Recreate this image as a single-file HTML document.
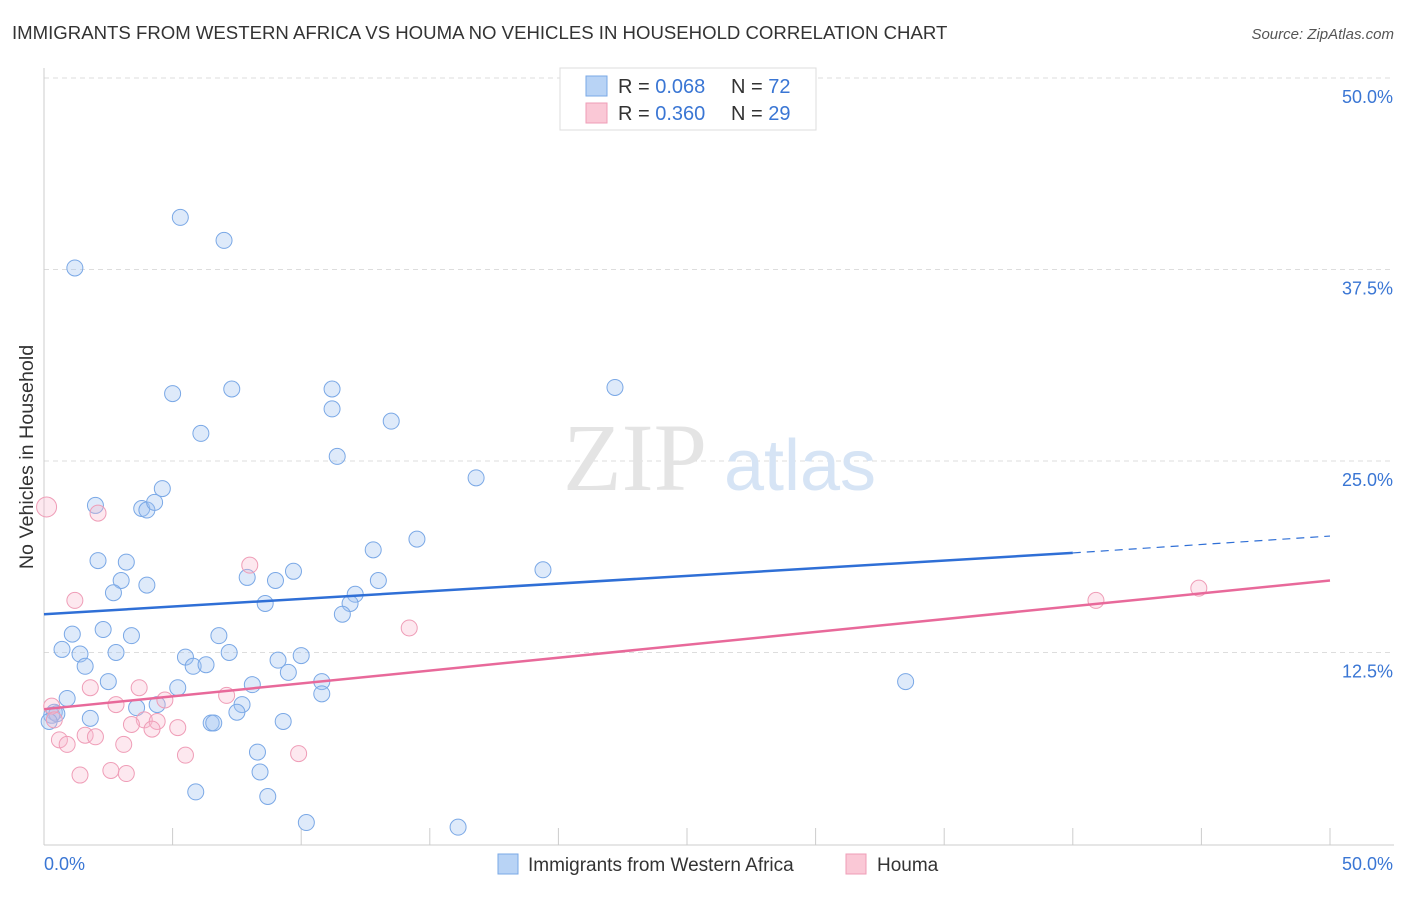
<!DOCTYPE html>
<html><head><meta charset="utf-8"><style>
body{margin:0;background:#fff;font-family:"Liberation Sans",sans-serif;}
</style></head><body>
<svg width="1406" height="892" xmlns="http://www.w3.org/2000/svg" font-family="Liberation Sans, sans-serif">
<text x="12" y="39" font-size="18.6" fill="#333">IMMIGRANTS FROM WESTERN AFRICA VS HOUMA NO VEHICLES IN HOUSEHOLD CORRELATION CHART</text>
<text x="1394" y="39" font-size="15" fill="#555" text-anchor="end" font-style="italic">Source: ZipAtlas.com</text>
<text x="33" y="457" font-size="19.7" fill="#333" text-anchor="middle" transform="rotate(-90 33 457)">No Vehicles in Household</text>
<g id="grid"></g>
<g><text x="635" y="490" font-size="96" fill="#e4e4e4" text-anchor="middle" font-family="Liberation Serif, serif">ZIP</text><text x="800" y="490" font-size="72" fill="#d6e4f5" text-anchor="middle">atlas</text></g>
<line x1="44" y1="68" x2="44" y2="845" stroke="#ccc"/>
<line x1="44" y1="845" x2="1394" y2="845" stroke="#ccc"/>
<g id="xticks"></g>
<g id="pts"></g>
<g id="lines"></g>
<text x="44" y="870" font-size="18" fill="#3a76d4">0.0%</text>
<text x="1393" y="870" font-size="18" fill="#3a76d4" text-anchor="end">50.0%</text>
<g>
<rect x="560" y="68" width="256" height="62" fill="#fff" stroke="#ddd"/>
<rect x="586" y="76" width="21" height="20" fill="#b8d3f5" stroke="#7aa8e6"/>
<rect x="586" y="103" width="21" height="20" fill="#fac8d6" stroke="#ef9db7"/>
<text x="618" y="93" font-size="20" fill="#333">R = <tspan fill="#3a76d4">0.068</tspan><tspan x="731">N = </tspan><tspan fill="#3a76d4">72</tspan></text>
<text x="618" y="120" font-size="20" fill="#333">R = <tspan fill="#3a76d4">0.360</tspan><tspan x="731">N = </tspan><tspan fill="#3a76d4">29</tspan></text>
</g>
<g>
<rect x="498" y="854" width="20" height="20" fill="#b8d3f5" stroke="#7aa8e6"/>
<text x="528" y="871" font-size="19" fill="#333">Immigrants from Western Africa</text>
<rect x="846" y="854" width="20" height="20" fill="#fac8d6" stroke="#ef9db7"/>
<text x="877" y="871" font-size="19" fill="#333">Houma</text>
</g>
</svg>
<script>
const yTicks=[12.5,25,37.5,50];
const yTickLabels=["12.5%","25.0%","37.5%","50.0%"];
const blueX=[1.2,5.3,7,5,7.3,11.2,11.2,22.2,6.1,13.5,11.4,16.8,2,3.8,4,4.3,4.6,14.5,12.8,2.1,3.2,19.4,9.7,3,4,7.9,9,13,2.7,12.1,8.6,11.9,11.6,2.3,1.1,3.4,6.8,0.7,1.4,2.8,5.5,7.2,10,9.1,1.6,5.8,6.3,9.5,2.5,5.2,8.1,10.8,33.5,0.9,10.8,7.7,3.6,4.4,0.4,0.3,0.5,1.8,7.5,6.5,6.6,9.3,8.3,8.4,5.9,8.7,10.2,16.1,0.2];
const blueY=[37.6,40.9,39.4,29.4,29.7,29.7,28.4,29.8,26.8,27.6,25.3,23.9,22.1,21.9,21.8,22.3,23.2,19.9,19.2,18.5,18.4,17.9,17.8,17.2,16.9,17.4,17.2,17.2,16.4,16.3,15.7,15.7,15,14,13.7,13.6,13.6,12.7,12.4,12.5,12.2,12.5,12.3,12,11.6,11.6,11.7,11.2,10.6,10.2,10.4,10.6,10.6,9.5,9.8,9.1,8.9,9.1,8.6,8.4,8.5,8.2,8.6,7.9,7.9,8,6,4.7,3.4,3.1,1.4,1.1,8];
const pinkX=[0.1,2.1,8,1.2,14.2,40.9,44.9,1.8,3.7,4.7,2.8,7.1,0.3,3.9,3.4,4.4,4.2,5.2,1.6,2,0.6,0.9,3.1,5.5,9.9,1.4,2.6,3.2,0.4];
const pinkY=[22,21.6,18.2,15.9,14.1,15.9,16.7,10.2,10.2,9.4,9.1,9.7,9,8.1,7.8,8,7.5,7.6,7.1,7,6.8,6.5,6.5,5.8,5.9,4.5,4.8,4.6,8.1];
const blueFit=[[0,15],[40,19],[50,20.1]];
const pinkFit=[[0,8.8],[50,17.2]];
const X=v=>44+v*25.72, Y=v=>844-v*15.32;
const NS="http://www.w3.org/2000/svg";
const mk=(t,a,p)=>{const e=document.createElementNS(NS,t);for(const k in a)e.setAttribute(k,a[k]);p.appendChild(e);return e;};
const grid=document.getElementById('grid');
yTicks.forEach((t,i)=>{
 const l=mk('line',{x1:44,x2:1394,y1:Y(t),y2:Y(t),stroke:'#ddd','stroke-dasharray':'5,4'},grid);
 
 
 const tx=mk('text',{x:1393,y:Y(t)+25,'font-size':18,fill:'#3a76d4','text-anchor':'end'},grid);
 tx.textContent=yTickLabels[i];
 
 
});
const xt=document.getElementById('xticks');
for(let i=1;i<=10;i++){const l=mk('line',{x1:X(i*5),x2:X(i*5),y1:828,y2:845,stroke:'#ccc'},xt);
 
 }
const pts=document.getElementById('pts');
blueX.forEach((x,i)=>{const c=mk('circle',{cx:X(x),cy:Y(blueY[i]),r:8,fill:'rgba(160,195,240,0.35)',stroke:'#7aa8e6','stroke-width':1},pts);
 
 });
pinkX.forEach((x,i)=>{const c=mk('circle',{cx:X(x),cy:Y(pinkY[i]),r:i==0?10:8,fill:'rgba(248,185,205,0.32)',stroke:'#ef9db7','stroke-width':1},pts);
 
 });
const ln=document.getElementById('lines');
let a=mk('line',{x1:X(blueFit[0][0]),y1:Y(blueFit[0][1]),x2:X(blueFit[1][0]),y2:Y(blueFit[1][1]),stroke:'#2f6fd6','stroke-width':2.5},ln);


let b=mk('line',{x1:X(blueFit[1][0]),y1:Y(blueFit[1][1]),x2:X(blueFit[2][0]),y2:Y(blueFit[2][1]),stroke:'#2f6fd6','stroke-width':1.2,'stroke-dasharray':'8,6'},ln);


let c=mk('line',{x1:X(pinkFit[0][0]),y1:Y(pinkFit[0][1]),x2:X(pinkFit[1][0]),y2:Y(pinkFit[1][1]),stroke:'#e8699a','stroke-width':2.5},ln);


</script>
</body></html>
